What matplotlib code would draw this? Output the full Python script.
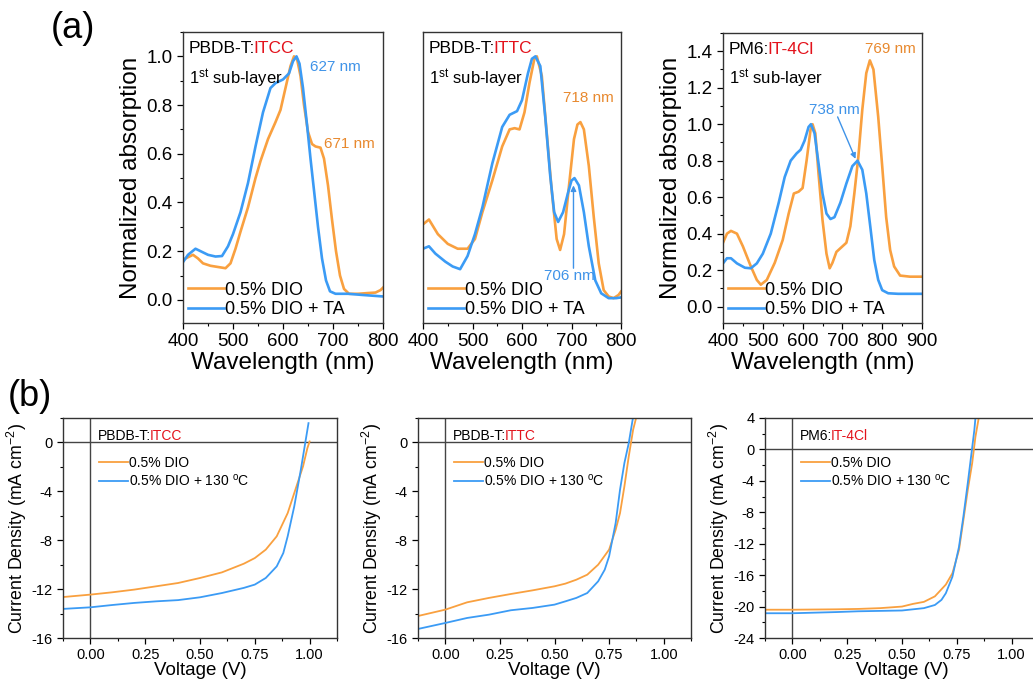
import numpy as np
import matplotlib
matplotlib.use("Agg")
import matplotlib.pyplot as plt
from matplotlib.ticker import MultipleLocator, FormatStrFormatter

plt.rcParams["font.family"] = ["Liberation Sans", "DejaVu Sans"]
plt.rcParams["mathtext.fontset"] = "custom"
plt.rcParams["mathtext.rm"] = "Liberation Sans"
plt.rcParams["mathtext.it"] = "Liberation Sans"
plt.rcParams["axes.unicode_minus"] = False

ORANGE = "#F9A03F"
BLUE = "#3B9BF5"
ORANGE_TXT = "#E8892E"
BLUE_TXT = "#3F93E8"
RED = "#E3121B"

# ---- (a) absorption, PBDB-T:ITCC
itcc_wl_dio = [400, 410, 420, 430, 440, 455, 470, 485, 495, 505, 515, 530, 545, 555, 570,
               585, 595, 605, 615, 622, 628, 635, 642, 650, 658, 665, 675, 682, 690, 698,
               706, 714, 722, 732, 750, 770, 785, 795, 800]
itcc_abs_dio = [0.165, 0.175, 0.185, 0.17, 0.15, 0.14, 0.135, 0.13, 0.15, 0.21, 0.28, 0.38, 0.5,
                0.57, 0.66, 0.73, 0.78, 0.87, 0.96, 1.0, 0.99, 0.92, 0.8, 0.69, 0.64, 0.63,
                0.625, 0.58, 0.47, 0.33, 0.2, 0.1, 0.045, 0.025, 0.025, 0.028, 0.03, 0.04, 0.05]
itcc_wl_ta = [400, 410, 425, 435, 450, 465, 478, 490, 500, 515, 530, 545, 560, 575, 585, 600,
              612, 620, 627, 633, 640, 648, 655, 662, 670, 678, 686, 694, 705, 730, 760, 800]
itcc_abs_ta = [0.155, 0.185, 0.21, 0.2, 0.185, 0.178, 0.18, 0.22, 0.27, 0.36, 0.48, 0.63, 0.77,
               0.87, 0.89, 0.905, 0.93, 0.98, 1.0, 0.97, 0.87, 0.72, 0.58, 0.45, 0.3, 0.17,
               0.08, 0.035, 0.025, 0.025, 0.02, 0.014]

# ---- (a) absorption, PBDB-T:ITTC
ittc_wl_dio = [400, 412, 430, 450, 470, 490, 505, 520, 540, 560, 575, 585, 595, 605, 615, 625,
               630, 640, 650, 660, 670, 677, 685, 695, 705, 712, 718, 725, 735, 745, 755, 765,
               775, 785, 795, 800]
ittc_abs_dio = [0.31, 0.33, 0.27, 0.23, 0.21, 0.21, 0.25, 0.36, 0.49, 0.63, 0.70, 0.705, 0.70,
                0.77, 0.89, 0.99, 1.0, 0.92, 0.685, 0.45, 0.25, 0.205, 0.27, 0.47, 0.66, 0.72,
                0.73, 0.70, 0.55, 0.34, 0.15, 0.04, 0.014, 0.007, 0.02, 0.034]
ittc_wl_ta = [400, 412, 425, 445, 460, 475, 490, 505, 520, 540, 560, 575, 590, 600, 612, 620,
              627, 637, 647, 657, 665, 673, 683, 693, 700, 706, 715, 725, 735, 748, 760, 775,
              790, 800]
ittc_abs_ta = [0.21, 0.22, 0.19, 0.157, 0.137, 0.126, 0.18, 0.27, 0.38, 0.56, 0.71, 0.76, 0.775,
               0.82, 0.93, 0.99, 1.0, 0.96, 0.75, 0.51, 0.36, 0.32, 0.36, 0.44, 0.49, 0.50, 0.47,
               0.36, 0.22, 0.08, 0.027, 0.007, 0.007, 0.01]

# ---- (a) absorption, PM6:IT-4Cl
it4cl_wl_dio = [400, 410, 420, 435, 450, 470, 485, 495, 510, 530, 550, 565, 578, 590, 600, 610,
                620, 625, 632, 640, 650, 660, 668, 675, 685, 700, 710, 720, 730, 740, 750, 760,
                769, 778, 790, 800, 810, 820, 830, 845, 870, 900]
it4cl_abs_dio = [0.35, 0.40, 0.415, 0.40, 0.33, 0.22, 0.146, 0.12, 0.146, 0.24, 0.365, 0.51,
                 0.62, 0.63, 0.65, 0.80, 0.97, 1.0, 0.95, 0.73, 0.475, 0.29, 0.21, 0.24, 0.30,
                 0.33, 0.35, 0.44, 0.62, 0.82, 1.08, 1.28, 1.35, 1.30, 1.04, 0.77, 0.49, 0.31,
                 0.22, 0.17, 0.164, 0.164]
it4cl_wl_ta = [400, 410, 420, 435, 455, 470, 485, 500, 520, 540, 555, 570, 585, 595, 605, 615,
               621, 630, 640, 650, 660, 670, 680, 695, 710, 725, 738, 750, 760, 770, 780, 790,
               800, 815, 840, 900]
it4cl_abs_ta = [0.237, 0.265, 0.265, 0.237, 0.213, 0.21, 0.237, 0.29, 0.40, 0.57, 0.71, 0.80,
                0.84, 0.86, 0.91, 0.985, 1.0, 0.95, 0.785, 0.62, 0.51, 0.48, 0.49, 0.57, 0.675,
                0.77, 0.80, 0.75, 0.62, 0.44, 0.256, 0.146, 0.09, 0.073, 0.07, 0.07]

# ---- (b) J-V curves
jv_itcc_v_dio = [-0.125, 0.0, 0.1, 0.2, 0.3, 0.4, 0.5, 0.6, 0.7, 0.75, 0.8, 0.85, 0.9, 0.95,
                 0.97, 0.99, 1.0]
jv_itcc_j_dio = [-12.65, -12.45, -12.26, -12.04, -11.77, -11.5, -11.09, -10.63, -9.92, -9.46,
                 -8.77, -7.68, -5.78, -3.05, -1.96, -0.46, 0.08]
jv_itcc_v_ht = [-0.125, 0.0, 0.1, 0.2, 0.3, 0.4, 0.5, 0.6, 0.7, 0.75, 0.8, 0.85, 0.88, 0.9,
                0.93, 0.96, 0.98, 0.995]
jv_itcc_j_ht = [-13.62, -13.49, -13.3, -13.13, -13.0, -12.9, -12.67, -12.32, -11.9, -11.63,
                -11.09, -10.14, -9.05, -7.68, -5.23, -2.23, -0.05, 1.58]

jv_ittc_v_dio = [-0.125, 0.0, 0.1, 0.2, 0.3, 0.4, 0.5, 0.55, 0.6, 0.65, 0.7, 0.75, 0.78, 0.8,
                 0.82, 0.84, 0.86, 0.875]
jv_ittc_j_dio = [-14.2, -13.68, -13.08, -12.72, -12.4, -12.1, -11.77, -11.55, -11.23, -10.82,
                 -10.0, -8.77, -7.14, -5.78, -3.6, -1.14, 1.04, 2.1]
jv_ittc_v_ht = [-0.125, 0.0, 0.1, 0.2, 0.3, 0.4, 0.5, 0.55, 0.6, 0.65, 0.7, 0.73, 0.75, 0.78,
                0.8, 0.82, 0.84, 0.86]
jv_ittc_j_ht = [-15.26, -14.77, -14.36, -14.09, -13.73, -13.54, -13.27, -13.0, -12.72, -12.32,
                -11.36, -10.41, -9.32, -6.59, -3.87, -1.69, -0.05, 2.1]

jv_it4cl_v_dio = [-0.125, 0.0, 0.2, 0.3, 0.4, 0.5, 0.55, 0.6, 0.65, 0.7, 0.73, 0.76, 0.78, 0.8,
                  0.82, 0.835, 0.85]
jv_it4cl_j_dio = [-20.4, -20.4, -20.35, -20.3, -20.2, -20.0, -19.66, -19.4, -18.7, -17.2,
                  -15.76, -12.8, -9.0, -5.17, -1.78, 1.6, 4.0]
jv_it4cl_v_ht = [-0.125, 0.0, 0.2, 0.3, 0.5, 0.6, 0.65, 0.68, 0.7, 0.73, 0.76, 0.78, 0.8,
                 0.815, 0.83, 0.835]
jv_it4cl_j_ht = [-20.85, -20.85, -20.7, -20.6, -20.5, -20.2, -19.8, -19.15, -18.3, -16.2,
                 -12.4, -8.56, -4.3, -0.93, 2.46, 4.0]

W, H = 1033, 682


def _rect(left, top, right, bottom):
    return [left / W, 1 - bottom / H, (right - left) / W, (bottom - top) / H]


def _title(ax, donor, acceptor, size, x, y, second=None):
    t = ax.text(x, y, donor, transform=ax.transAxes, fontsize=size, va="top", ha="left")
    ax.annotate(acceptor, xy=(1, 0), xycoords=t, xytext=(-1.2, 0),
                textcoords="offset points", va="bottom", ha="left",
                fontsize=size, color=RED)
    if second:
        ax.text(x, y - 0.09, second, transform=ax.transAxes, fontsize=size - 0.5,
                va="top", ha="left")


def _abs_panel(ax, wl1, a1, wl2, a2, xmax, ylim, ylabels=True):
    ax.plot(wl1, a1, color=ORANGE, lw=1.9, label="0.5% DIO")
    ax.plot(wl2, a2, color=BLUE, lw=1.9, label="0.5% DIO + TA")
    ax.set_xlim(400, xmax)
    ax.set_ylim(*ylim)
    ax.xaxis.set_major_locator(MultipleLocator(100))
    ax.xaxis.set_minor_locator(MultipleLocator(50))
    ax.yaxis.set_major_locator(MultipleLocator(0.2))
    ax.yaxis.set_minor_locator(MultipleLocator(0.1))
    ax.yaxis.set_major_formatter(FormatStrFormatter("%.1f"))
    ax.tick_params(which="major", length=4, width=0.9, labelsize=13.5, direction="out")
    ax.tick_params(which="minor", length=2.5, width=0.8, direction="out")
    if not ylabels:
        ax.tick_params(axis="y", which="both", left=False, labelleft=False)
    ax.set_xlabel("Wavelength (nm)", fontsize=17.5, labelpad=1)
    for s in ax.spines.values():
        s.set_linewidth(1.0)
        s.set_color("#333333")
    ax.legend(loc="lower left", frameon=False, fontsize=13, handlelength=2.0,
              handletextpad=0.1, labelspacing=0.15, borderpad=0.1, borderaxespad=0.15)


def _jv_panel(ax, v1, j1, v2, j2, ylim):
    ax.axhline(0, color="#444444", lw=1.0, zorder=1)
    ax.axvline(0, color="#444444", lw=1.0, zorder=1)
    ax.plot(v1, j1, color=ORANGE, lw=1.3, label="0.5% DIO")
    ax.plot(v2, j2, color=BLUE, lw=1.3, label="0.5% DIO + 130 $^{\\mathrm{o}}$C")
    ax.set_xlim(-0.125, 1.125)
    ax.set_ylim(*ylim)
    ax.xaxis.set_major_locator(MultipleLocator(0.25))
    ax.xaxis.set_minor_locator(MultipleLocator(0.125))
    ax.xaxis.set_major_formatter(FormatStrFormatter("%.2f"))
    ax.yaxis.set_major_locator(MultipleLocator(4))
    ax.yaxis.set_minor_locator(MultipleLocator(2))
    ax.tick_params(which="major", length=4, width=0.9, labelsize=10.5, direction="out")
    ax.tick_params(which="minor", length=2.5, width=0.8, direction="out")
    ax.set_xlabel("Voltage (V)", fontsize=13.5, labelpad=0)
    ax.set_ylabel("Current Density (mA cm$^{-2}$)", fontsize=12.8, labelpad=2)
    for s in ax.spines.values():
        s.set_linewidth(1.0)
        s.set_color("#333333")
    ax.legend(loc="upper left", bbox_to_anchor=(0.125, 0.835), frameon=False, fontsize=10,
              handlelength=2.1, handletextpad=0.1, labelspacing=0.2, borderpad=0.1,
              borderaxespad=0.0)


fig = plt.figure(figsize=(W / 100, H / 100), dpi=100)

# (a) absorption panels
ax1 = fig.add_axes(_rect(183, 32, 383, 323))
_abs_panel(ax1, itcc_wl_dio, itcc_abs_dio, itcc_wl_ta, itcc_abs_ta, 800, (-0.095, 1.10))
ax1.set_ylabel("Normalized absorption", fontsize=17.5, labelpad=3)
_title(ax1, "PBDB-T:", "ITCC", 12.5, 0.03, 0.97, "1$^{\\mathrm{st}}$ sub-layer")
ax1.text(654, 0.955, "627 nm", color=BLUE_TXT, fontsize=11, va="center")
ax1.text(681, 0.64, "671 nm", color=ORANGE_TXT, fontsize=11, va="center")

ax2 = fig.add_axes(_rect(423, 32, 621, 323))
_abs_panel(ax2, ittc_wl_dio, ittc_abs_dio, ittc_wl_ta, ittc_abs_ta, 800, (-0.095, 1.10),
           ylabels=False)
_title(ax2, "PBDB-T:", "ITTC", 12.5, 0.03, 0.97, "1$^{\\mathrm{st}}$ sub-layer")
ax2.text(683, 0.83, "718 nm", color=ORANGE_TXT, fontsize=11, va="center")
ax2.text(644, 0.10, "706 nm", color=BLUE_TXT, fontsize=11, va="center")
ax2.annotate("", xy=(704, 0.47), xytext=(704, 0.13),
             arrowprops=dict(arrowstyle="-|>", color=BLUE_TXT, lw=1.0,
                             mutation_scale=8, shrinkA=0, shrinkB=0))

ax3 = fig.add_axes(_rect(723, 33, 922, 323))
_abs_panel(ax3, it4cl_wl_dio, it4cl_abs_dio, it4cl_wl_ta, it4cl_abs_ta, 900, (-0.09, 1.50))
ax3.set_ylabel("Normalized absorption", fontsize=17.5, labelpad=3)
_title(ax3, "PM6:", "IT-4Cl", 12.5, 0.03, 0.97, "1$^{\\mathrm{st}}$ sub-layer")
ax3.text(758, 1.41, "769 nm", color=ORANGE_TXT, fontsize=11, va="center")
ax3.text(615, 1.08, "738 nm", color=BLUE_TXT, fontsize=11, va="center")
ax3.annotate("", xy=(733, 0.81), xytext=(688, 1.04),
             arrowprops=dict(arrowstyle="-|>", color=BLUE_TXT, lw=1.0,
                             mutation_scale=8, shrinkA=0, shrinkB=0))

# (b) J-V panels
bx1 = fig.add_axes(_rect(63, 418, 337, 638))
_jv_panel(bx1, jv_itcc_v_dio, jv_itcc_j_dio, jv_itcc_v_ht, jv_itcc_j_ht, (-16, 2))
_title(bx1, "PBDB-T:", "ITCC", 10, 0.128, 0.95)

bx2 = fig.add_axes(_rect(418, 418, 691, 638))
_jv_panel(bx2, jv_ittc_v_dio, jv_ittc_j_dio, jv_ittc_v_ht, jv_ittc_j_ht, (-16, 2))
_title(bx2, "PBDB-T:", "ITTC", 10, 0.128, 0.95)

bx3 = fig.add_axes(_rect(765, 418, 1039, 638))
_jv_panel(bx3, jv_it4cl_v_dio, jv_it4cl_j_dio, jv_it4cl_v_ht, jv_it4cl_j_ht, (-24, 4))
_title(bx3, "PM6:", "IT-4Cl", 10, 0.128, 0.95)

fig.text(73 / W, 1 - 28 / H, "(a)", fontsize=26, ha="center", va="center")
fig.text(30 / W, 1 - 397 / H, "(b)", fontsize=26, ha="center", va="center")

fig.savefig("out.png", dpi=100)
